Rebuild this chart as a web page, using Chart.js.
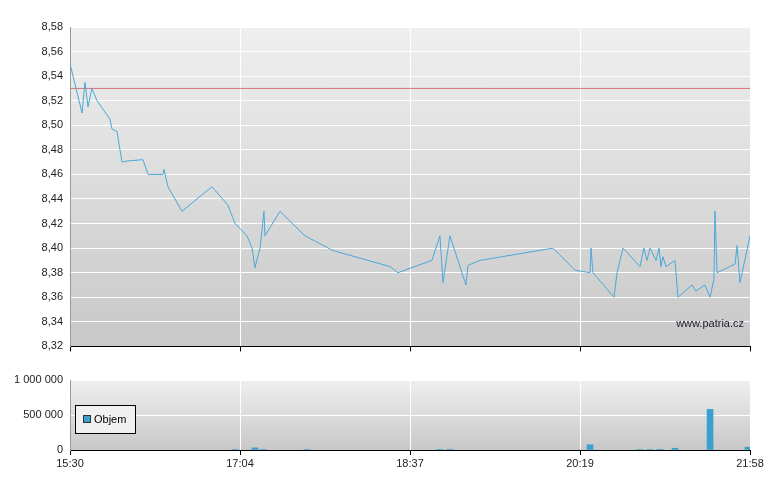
<!DOCTYPE html>
<html><head><meta charset="utf-8">
<script src="https://cdn.jsdelivr.net/npm/chart.js@4/dist/chart.umd.min.js"></script>
<style>body{margin:0;background:#fff}.w{position:absolute;left:0;width:780px}</style></head>
<body>
<div class="w" style="top:0;height:356px"><canvas id="p" width="780" height="356"></canvas></div>
<div class="w" style="top:370px;height:110px"><canvas id="v" width="780" height="110"></canvas></div>
<script>
const timeLabels=['15:30','17:04','18:37','20:19','21:58'];
const priceX=[0,0.071,0.088,0.106,0.129,0.159,0.235,0.247,0.276,0.306,0.341,0.429,0.459,0.547,0.553,0.576,0.659,0.835,0.929,0.971,1.041,1.071,1.088,1.118,1.141,1.147,1.235,1.382,1.547,1.882,1.929,2.129,2.176,2.194,2.235,2.329,2.341,2.412,2.841,2.971,3.059,3.065,3.076,3.200,3.218,3.253,3.353,3.376,3.394,3.412,3.447,3.465,3.476,3.488,3.506,3.559,3.576,3.659,3.682,3.735,3.765,3.788,3.794,3.806,3.912,3.924,3.941,4.0];
const priceY=[8.55,8.51,8.535,8.515,8.53,8.52,8.505,8.497,8.495,8.47,8.471,8.472,8.46,8.46,8.464,8.45,8.43,8.45,8.435,8.42,8.41,8.40,8.384,8.40,8.43,8.41,8.43,8.41,8.398,8.385,8.38,8.39,8.41,8.372,8.41,8.37,8.386,8.39,8.40,8.382,8.38,8.40,8.38,8.36,8.38,8.40,8.385,8.40,8.39,8.40,8.39,8.40,8.385,8.393,8.385,8.39,8.36,8.37,8.365,8.37,8.36,8.375,8.43,8.38,8.387,8.402,8.372,8.41];
const refPrice=8.53;
const volX=[0.971,1.088,1.135,1.394,2.176,2.235,3.059,3.353,3.412,3.471,3.559,3.765,3.988];
const volY=[8000,30000,6000,8000,5000,5000,75000,8000,8000,10000,25000,580000,40000];
const F='"Liberation Sans", Arial, sans-serif';
const bg={id:'bg',beforeDraw(c){const a=c.chartArea,x=c.ctx;const g=x.createLinearGradient(0,a.top,0,a.bottom);g.addColorStop(0,'#efefef');g.addColorStop(1,'#c8c8c8');x.save();x.fillStyle=g;x.fillRect(a.left,a.top,a.right-a.left,a.bottom-a.top);x.restore();}};
const fit=(w)=>function(s){s.width=w;};
const xScale=(showLabels,h)=>({type:'linear',min:0,max:4,offset:false,afterFit(s){s.height=h;},
  afterBuildTicks(s){s.ticks=[0,1,2,3,4].map(v=>({value:v}));},
  ticks:{display:showLabels,color:'#222',font:{family:F,size:11},padding:2,maxRotation:0,callback:(v)=>timeLabels[v]},
  grid:{color:'#fff',lineWidth:1,tickColor:'#000',tickLength:5,offset:false},border:{color:'#000'}});
new Chart(document.getElementById('p'),{type:'line',
 data:{datasets:[{data:priceX.map((x,i)=>({x,y:priceY[i]})),borderColor:'#4aa8d8',borderWidth:1,pointRadius:0,tension:0},
  {data:[{x:0,y:refPrice},{x:4,y:refPrice}],borderColor:'#e07070',borderWidth:1,pointRadius:0}]},
 options:{responsive:false,animation:false,layout:{padding:{top:27,right:30,left:0,bottom:0}},
  plugins:{legend:{display:false},tooltip:{enabled:false}},
  scales:{x:xScale(false,6),y:{min:8.32,max:8.58,afterFit:fit(70),ticks:{stepSize:0.02,color:'#222',font:{family:F,size:11},callback:v=>v.toFixed(2).replace('.',',')},grid:{color:'#fff',tickLength:4,tickColor:'#fff'},border:{color:'#999'}}}},
 plugins:[bg,{id:'wm',afterDatasetsDraw(c){const x=c.ctx;x.save();x.font='11px '+F;x.fillStyle='#223';x.textAlign='right';x.fillText('www.patria.cz',c.chartArea.right-6,c.chartArea.bottom-19);x.restore();}}]});
new Chart(document.getElementById('v'),{type:'bar',
 data:{datasets:[{data:volX.map((x,i)=>({x,y:volY[i]})),backgroundColor:'#3aa0d0',barThickness:6}]},
 options:{responsive:false,animation:false,layout:{padding:{top:10,right:30,left:0,bottom:0}},
  plugins:{legend:{display:false},tooltip:{enabled:false}},
  scales:{x:xScale(true,30),y:{min:0,max:1000000,afterFit:fit(70),ticks:{stepSize:500000,color:'#222',font:{family:F,size:11},callback:v=>v.toLocaleString('cs-CZ').replace(/\s/g,' ')},grid:{color:'#fff',tickLength:4,tickColor:'#fff'},border:{color:'#999'}}}},
 plugins:[bg,{id:'lg',afterDraw(c){const x=c.ctx,a=c.chartArea;x.save();x.fillStyle='#f0f0f0';x.fillRect(a.left+5,a.top+25,60,28);x.strokeStyle='#000';x.lineWidth=1;x.strokeRect(a.left+5.5,a.top+25.5,60,28);x.fillStyle='#3aa0d0';x.fillRect(a.left+13,a.top+35,7,7);x.strokeStyle='#333';x.strokeRect(a.left+13.5,a.top+35.5,7,7);x.fillStyle='#000';x.font='11px '+F;x.textBaseline='middle';x.fillText('Objem',a.left+24,a.top+40);x.restore();}}]});
</script></body></html>
